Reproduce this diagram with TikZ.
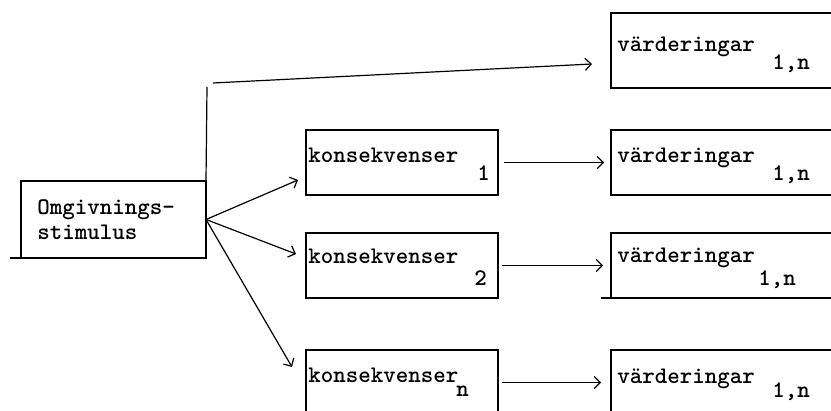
\documentclass[tikz,border=0pt]{standalone}
\usepackage{tikz}
\usetikzlibrary{arrows.meta}

\begin{document}
\begin{tikzpicture}[x=0.5pt,y=-0.5pt,
  ruta/.style={draw, line width=0.9pt, inner sep=0pt, outer sep=0pt, anchor=north west},
  oppen/.style={inner sep=0pt, outer sep=0pt, anchor=north west, minimum width=120pt},
  kant/.style={line width=0.9pt},
  txt/.style={anchor=base west, inner sep=0pt, font=\ttfamily\bfseries\fontsize{11.9}{12.5}\selectfont},
  pil/.style={line width=0.6pt, -{Straight Barb[length=3pt,width=6pt]}}]
\useasboundingbox (0,0) rectangle (831,411);
\clip (0,0) rectangle (831,411);
% rutor
\node[ruta, minimum width=92.5pt, minimum height=38.5pt] (omg) at (21,181) {};
\node[ruta, minimum width=96pt, minimum height=32.5pt] (k1) at (306,130) {};
\node[ruta, minimum width=96pt, minimum height=32.5pt] (k2) at (306,233) {};
\node[ruta, minimum width=96pt, minimum height=32.5pt] (kn) at (306,350) {};
\node[oppen, minimum height=37.5pt] (v0) at (611,13) {};
\node[oppen, minimum height=32.5pt] (v1) at (611,130) {};
\node[oppen, minimum height=32.5pt] (v2) at (611,233) {};
\node[oppen, minimum height=32.5pt] (vn) at (611,350) {};
\draw [kant] (v0.north east) -- (v0.north west) -- (v0.south west) -- (v0.south east);
\draw [kant] (v1.north east) -- (v1.north west) -- (v1.south west) -- (v1.south east);
\draw [kant] (v2.north east) -- (v2.north west) -- (v2.south west) -- (v2.south east);
\draw [kant] (vn.north east) -- (vn.north west) -- (vn.south west) -- (vn.south east);
\draw [kant] (omg.south west) -- ++(-11,0);
\draw [kant] (v2.south west) -- ++(-10,0);
% texter
\node[txt] (omgtxt) at (37,215) {Omgivnings-};
\node[txt] (omgtxt2) at (37,240) {stimulus};
\node[txt] (k1txt) at (308,163) {konsekvenser};
\node[txt] (k1sub) at (477,181) {1};
\node[txt] (k2txt) at (308,264) {konsekvenser};
\node[txt] (k2sub) at (474,286) {2};
\node[txt] (kntxt) at (308,383) {konsekvenser};
\node[txt] (knsub) at (456,397) {n};
\node[txt] (v0txt) at (617,52) {värderingar};
\node[txt] (v0sub) at (772,70) {1,n};
\node[txt] (v1txt) at (617,163) {värderingar};
\node[txt] (v1sub) at (772,181) {1,n};
\node[txt] (v2txt) at (617,263) {värderingar};
\node[txt] (v2sub) at (758,286) {1,n};
\node[txt] (vntxt) at (617,384) {värderingar};
\node[txt] (vnsub) at (772,398) {1,n};
% pilar
\coordinate (knick) at (207,87);
\coordinate (t0) at (213,83);
\coordinate (e0) at (592,64);
\coordinate (e1) at (298,180);
\coordinate (e2) at (296,254);
\coordinate (en) at (292,367);
\draw [line width=0.6pt] (omg.north east) -- (knick);
\draw [pil] (t0) -- (e0);
\draw [pil] (omg.east) -- (e1);
\draw [pil] (omg.east) -- (e2);
\draw [pil] (omg.east) -- (en);
\draw [pil, shorten <=3pt, shorten >=3.5pt] (k1.east) -- (v1.west);
\draw [pil, shorten <=2pt, shorten >=4pt] (k2.east) -- (v2.west);
\draw [pil, shorten <=2pt, shorten >=5pt] (kn.east) -- (vn.west);
\end{tikzpicture}
\end{document}
